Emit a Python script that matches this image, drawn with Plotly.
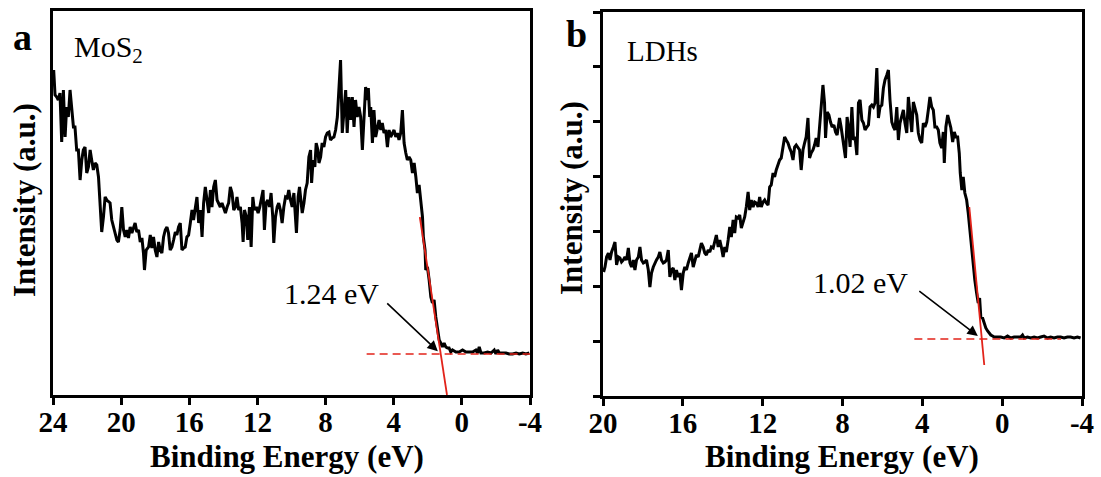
import plotly.graph_objects as go

# ---------------- MoS2 valence-band spectrum ----------------
energy_mos2 = [
    23.96, 23.88, 23.78, 23.69, 23.59, 23.49, 23.39, 23.29, 23.20, 23.10,
    23.00, 22.90, 22.80, 22.71, 22.61, 22.51, 22.41, 22.31, 22.22, 22.12,
    22.02, 21.92, 21.82, 21.73, 21.63, 21.53, 21.43, 21.33, 21.24, 21.14,
    21.04, 20.94, 20.84, 20.65, 20.55, 20.45, 20.35, 20.25, 20.16, 20.06,
    19.96, 19.86, 19.76, 19.67, 19.57, 19.47, 19.37, 19.27, 19.18, 19.08,
    18.98, 18.88, 18.78, 18.69, 18.63, 18.53, 18.39, 18.29, 18.20, 18.10,
    18.00, 17.90, 17.80, 17.71, 17.61, 17.51, 17.41, 17.31, 17.22, 17.12,
    17.02, 16.92, 16.82, 16.73, 16.63, 16.53, 16.43, 16.33, 16.24, 16.14,
    16.04, 15.94, 15.84, 15.75, 15.65, 15.55, 15.45, 15.35, 15.25, 15.16,
    15.06, 14.96, 14.86, 14.76, 14.67, 14.57, 14.47, 14.37, 14.27, 14.18,
    14.08, 13.98, 13.88, 13.78, 13.69, 13.59, 13.49, 13.39, 13.29, 13.20,
    13.10, 13.00, 12.90, 12.84, 12.76, 12.65, 12.57, 12.47, 12.37, 12.27,
    12.18, 12.06, 11.96, 11.86, 11.76, 11.67, 11.59, 11.49, 11.39, 11.29,
    11.20, 11.10, 11.04, 10.94, 10.84, 10.75, 10.65, 10.55, 10.45, 10.35,
    10.25, 10.16, 10.06, 9.96, 9.86, 9.76, 9.71, 9.61, 9.53, 9.47,
    9.37, 9.27, 9.18, 9.08, 8.98, 8.88, 8.82, 8.73, 8.63, 8.55,
    8.45, 8.39, 8.29, 8.20, 8.10, 8.00, 7.90, 7.80, 7.71, 7.61,
    7.51, 7.41, 7.31, 7.22, 7.12, 7.02, 6.92, 6.82, 6.73, 6.63,
    6.53, 6.43, 6.33, 6.24, 6.14, 6.04, 5.94, 5.84, 5.74, 5.65,
    5.55, 5.49, 5.41, 5.35, 5.25, 5.16, 5.06, 4.96, 4.86, 4.76,
    4.67, 4.57, 4.47, 4.37, 4.27, 4.18, 4.08, 3.98, 3.88, 3.78,
    3.69, 3.59, 3.49, 3.39, 3.29, 3.20, 3.10, 3.00, 2.90, 2.80,
    2.70, 2.61, 2.51, 2.41, 2.31, 2.26, 2.16, 2.12, 2.02, 1.92,
    1.82, 1.73, 1.63, 1.53, 1.43, 1.33, 1.24, 1.14, 1.04, 0.94,
    0.84, 0.75, 0.65, 0.55, 0.35, 0.16, -0.04, -0.24, -0.43, -0.63,
    -0.82, -0.92, -1.02, -1.12, -1.31, -1.51, -1.71, -1.80, -1.90, -2.00,
    -2.10, -2.20, -2.39, -2.59, -2.78, -2.98, -3.18, -3.37, -3.57, -3.76,
    -3.96,
]
intensity_mos2 = [
    325, 300, 298, 295, 302, 253, 305, 258, 288, 278,
    305, 282, 268, 268, 245, 245, 215, 235, 245, 248,
    222, 228, 245, 235, 225, 232, 230, 218, 192, 163,
    178, 198, 195, 192, 175, 168, 163, 155, 153, 165,
    188, 165, 158, 165, 157, 168, 162, 168, 172, 163,
    165, 153, 157, 142, 125, 145, 148, 160, 147, 158,
    145, 138, 153, 145, 142, 158, 165, 168, 162, 145,
    148, 155, 163, 160, 168, 172, 145, 147, 148, 158,
    160, 172, 185, 175, 188, 198, 172, 185, 158, 192,
    208, 195, 182, 205, 188, 208, 215, 195, 192, 188,
    192, 187, 182, 188, 192, 208, 202, 185, 188, 198,
    185, 188, 172, 153, 185, 178, 155, 188, 148, 198,
    185, 188, 182, 188, 198, 205, 165, 192, 195, 188,
    202, 178, 152, 178, 188, 192, 185, 172, 188, 198,
    197, 205, 195, 188, 202, 178, 162, 198, 208, 198,
    182, 192, 205, 212, 238, 245, 212, 235, 228, 252,
    245, 232, 238, 252, 248, 258, 262, 263, 255, 257,
    258, 265, 278, 305, 335, 262, 288, 305, 262, 298,
    275, 298, 268, 295, 278, 288, 278, 245, 278, 308,
    295, 307, 278, 288, 252, 285, 258, 265, 275, 265,
    272, 262, 265, 248, 265, 258, 262, 265, 258, 262,
    255, 262, 285, 252, 242, 235, 238, 235, 222, 232,
    218, 202, 210, 195, 178, 158, 145, 125, 128, 115,
    98, 92, 95, 78, 65, 55, 52, 48, 52, 48,
    47, 47, 43, 45, 43, 43, 45, 43, 43, 43,
    45, 42, 48, 42, 42, 43, 42, 43, 45, 41,
    45, 42, 42, 42, 41, 41, 42, 41, 42, 41,
    42,
]

# ---------------- LDHs valence-band spectrum ----------------
energy_ldh = [
    19.97, 19.90, 19.82, 19.73, 19.65, 19.57, 19.48, 19.40, 19.32, 19.23,
    19.15, 19.07, 18.98, 18.90, 18.82, 18.73, 18.65, 18.57, 18.48, 18.40,
    18.32, 18.23, 18.15, 18.07, 17.98, 17.90, 17.82, 17.73, 17.65, 17.57,
    17.48, 17.40, 17.32, 17.23, 17.15, 17.07, 16.98, 16.90, 16.82, 16.73,
    16.65, 16.57, 16.48, 16.40, 16.32, 16.23, 16.15, 16.07, 15.98, 15.90,
    15.82, 15.73, 15.65, 15.57, 15.48, 15.40, 15.32, 15.23, 15.15, 15.07,
    14.98, 14.90, 14.82, 14.73, 14.65, 14.57, 14.48, 14.40, 14.32, 14.23,
    14.15, 14.07, 13.98, 13.90, 13.82, 13.73, 13.65, 13.57, 13.48, 13.40,
    13.32, 13.23, 13.15, 13.07, 12.98, 12.90, 12.82, 12.73, 12.65, 12.57,
    12.48, 12.40, 12.32, 12.23, 12.15, 12.07, 11.98, 11.90, 11.82, 11.73,
    11.65, 11.57, 11.48, 11.40, 11.32, 11.23, 11.15, 11.07, 10.98, 10.90,
    10.82, 10.73, 10.65, 10.57, 10.48, 10.40, 10.32, 10.23, 10.15, 10.07,
    9.98, 9.90, 9.82, 9.73, 9.65, 9.57, 9.48, 9.40, 9.32, 9.23,
    9.15, 9.07, 8.98, 8.90, 8.85, 8.77, 8.68, 8.60, 8.52, 8.43,
    8.35, 8.27, 8.15, 8.07, 7.98, 7.90, 7.85, 7.77, 7.70, 7.62,
    7.53, 7.45, 7.37, 7.28, 7.20, 7.12, 7.03, 6.95, 6.87, 6.78,
    6.70, 6.62, 6.53, 6.45, 6.37, 6.28, 6.20, 6.12, 6.03, 5.95,
    5.87, 5.78, 5.70, 5.62, 5.53, 5.45, 5.37, 5.28, 5.20, 5.12,
    5.03, 4.95, 4.87, 4.78, 4.70, 4.62, 4.53, 4.45, 4.37, 4.28,
    4.20, 4.12, 4.03, 3.95, 3.87, 3.78, 3.70, 3.62, 3.53, 3.45,
    3.37, 3.28, 3.20, 3.12, 3.03, 2.95, 2.90, 2.82, 2.73, 2.65,
    2.57, 2.48, 2.40, 2.32, 2.23, 2.15, 2.10, 2.02, 1.95, 1.87,
    1.78, 1.70, 1.62, 1.53, 1.45, 1.37, 1.28, 1.20, 1.13, 1.07,
    0.98, 0.90, 0.82, 0.73, 0.65, 0.57, 0.48, 0.40, 0.32, 0.23,
    0.07, -0.10, -0.27, -0.43, -0.60, -0.77, -0.93, -1.02, -1.10, -1.27,
    -1.43, -1.60, -1.77, -1.93, -2.10, -2.27, -2.43, -2.60, -2.77, -2.93,
    -3.10, -3.27, -3.43, -3.60, -3.77, -3.93,
]
intensity_ldh = [
    124, 129, 139, 143, 136, 144, 149, 154, 131, 139,
    138, 134, 136, 139, 136, 148, 133, 129, 136, 126,
    136, 139, 149, 136, 133, 134, 136, 126, 109, 123,
    129, 133, 136, 139, 144, 136, 133, 134, 136, 146,
    119, 126, 128, 116, 126, 119, 123, 106, 123, 129,
    126, 133, 139, 143, 129, 136, 141, 139, 146, 153,
    149, 143, 141, 146, 144, 149, 148, 156, 161, 149,
    156, 149, 139, 149, 144, 156, 169, 159, 176, 163,
    179, 178, 181, 168, 173, 179, 189, 204, 186, 196,
    189, 194, 193, 189, 199, 189, 194, 196, 193, 191,
    209, 211, 223, 219, 226, 231, 236, 238, 249, 259,
    256, 253, 248, 244, 236, 249, 251, 248, 246, 226,
    246, 253, 259, 278, 238, 243, 246, 251, 258, 249,
    269, 289, 311, 293, 258, 284, 281, 274, 269, 271,
    264, 261, 278, 269, 256, 246, 238, 279, 269, 249,
    289, 256, 259, 241, 293, 296, 276, 273, 266, 269,
    271, 289, 291, 289, 293, 328, 278, 289, 291, 308,
    316, 321, 326, 296, 274, 269, 266, 289, 256, 273,
    281, 286, 273, 263, 299, 278, 264, 294, 289, 281,
    263, 256, 253, 273, 269, 274, 286, 299, 289, 286,
    269, 269, 266, 253, 248, 264, 233, 269, 281, 274,
    268, 254, 264, 259, 259, 243, 223, 206, 219, 203,
    196, 183, 166, 143, 129, 116, 103, 93, 98, 79,
    78, 73, 68, 65, 63, 61, 60, 59, 59, 59,
    59, 58, 60, 58, 59, 59, 59, 61, 58, 59,
    58, 59, 58, 59, 60, 58, 59, 58, 59, 59,
    58, 59, 59, 58, 59, 58,
]

# ---------------- onset extrapolation ----------------
onset_mos2 = 1.24          # eV, leading-edge onset
onset_ldh = 1.02
background_mos2 = 41       # flat background level
background_ldh = 57
edge_slope_mos2 = 111.5    # intensity per eV along the leading edge
edge_slope_ldh = 211.0
edge_top_mos2, edge_bottom_mos2 = 178, 0
edge_top_ldh, edge_bottom_ldh = 189, 31
baseline_span_mos2 = [5.59, -4.0]
baseline_span_ldh = [4.40, -2.95]


def edge_line(onset, base, slope, top, bottom):
    e_top = onset + (top - base) / slope
    e_bot = onset + (bottom - base) / slope
    return [e_top, e_bot], [top, bottom]


xt_m, yt_m = edge_line(onset_mos2, background_mos2, edge_slope_mos2,
                       edge_top_mos2, edge_bottom_mos2)
xt_l, yt_l = edge_line(onset_ldh, background_ldh, edge_slope_ldh,
                       edge_top_ldh, edge_bottom_ldh)

ticks_mos2 = [24, 20, 16, 12, 8, 4, 0, -4]
ticks_ldh = [20, 16, 12, 8, 4, 0, -4]
tick_labels_mos2 = ["24", "20", "16", "12", "8", "4", "0", "-4"]
tick_labels_ldh = ["20", "16", "12", "8", "4", "0", "-4"]

W, H = 1101, 477
SERIF = "Liberation Serif"
RED = "#e2231a"

fig = go.Figure()

# spectra
fig.add_trace(go.Scatter(x=energy_mos2, y=intensity_mos2, mode="lines",
                         line=dict(color="black", width=3),
                         xaxis="x", yaxis="y"))
fig.add_trace(go.Scatter(x=energy_ldh, y=intensity_ldh, mode="lines",
                         line=dict(color="black", width=3),
                         xaxis="x2", yaxis="y2"))

# background levels
fig.add_trace(go.Scatter(x=baseline_span_mos2, y=[background_mos2] * 2, mode="lines",
                         line=dict(color=RED, width=1.6, dash="8px,5px"),
                         xaxis="x", yaxis="y"))
fig.add_trace(go.Scatter(x=baseline_span_ldh, y=[background_ldh] * 2, mode="lines",
                         line=dict(color=RED, width=1.6, dash="8px,5px"),
                         xaxis="x2", yaxis="y2"))

# leading-edge extrapolation
fig.add_trace(go.Scatter(x=xt_m, y=yt_m, mode="lines",
                         line=dict(color=RED, width=1.8),
                         xaxis="x", yaxis="y"))
fig.add_trace(go.Scatter(x=xt_l, y=yt_l, mode="lines",
                         line=dict(color=RED, width=1.8),
                         xaxis="x2", yaxis="y2"))

frame = dict(showline=True, linecolor="black", linewidth=3, mirror=True,
             showgrid=False, zeroline=False, automargin=False)
tickfont = dict(family=SERIF, size=29, color="black", weight="bold")

fig.update_layout(
    template=None,
    width=W, height=H,
    margin=dict(l=0, r=0, t=0, b=0, autoexpand=False),
    paper_bgcolor="white", plot_bgcolor="white",
    showlegend=False,
    xaxis=dict(domain=[53 / W, 530 / W], range=[24, -4], anchor="y",
               tickmode="array", tickvals=ticks_mos2, ticktext=tick_labels_mos2,
               ticks="outside", ticklen=7, tickwidth=2.5, tickcolor="black",
               ticklabelstandoff=-8, tickfont=tickfont, **frame),
    yaxis=dict(domain=[1 - 395 / H, 1 - 11 / H], range=[0, 384], anchor="x",
               showticklabels=False, ticks="", **frame),
    xaxis2=dict(domain=[603 / W, 1082 / W], range=[20, -4], anchor="y2",
                tickmode="array", tickvals=ticks_ldh, ticktext=tick_labels_ldh,
                ticks="outside", ticklen=7, tickwidth=2.5, tickcolor="black",
                ticklabelstandoff=-8, tickfont=tickfont, **frame),
    yaxis2=dict(domain=[1 - 396 / H, 1 - 12 / H], range=[0, 384], anchor="x2",
                tickmode="linear", tick0=0, dtick=384 / 7,
                ticks="outside", ticklen=7, tickwidth=2.5, tickcolor="black",
                showticklabels=False, **frame),
)

bold = dict(family=SERIF, color="black", weight="bold")
plain = dict(family=SERIF, color="black")
centered = dict(xanchor="center", yanchor="middle", showarrow=False)

annotations = [
    # panel letters
    dict(text="a", x=22 / W, y=1 - 37 / H, xref="paper", yref="paper",
         font=dict(size=38, **bold), **centered),
    dict(text="b", x=576 / W, y=1 - 34 / H, xref="paper", yref="paper",
         font=dict(size=38, **bold), **centered),
    # axis titles
    dict(text="Binding Energy (eV)", x=287 / W, y=1 - 456 / H, xref="paper", yref="paper",
         font=dict(size=31, **bold), **centered),
    dict(text="Binding Energy (eV)", x=842 / W, y=1 - 456 / H, xref="paper", yref="paper",
         font=dict(size=31, **bold), **centered),
    dict(text="Intensity (a.u.)", x=24 / W, y=1 - 200 / H, xref="paper", yref="paper",
         textangle=-90, font=dict(size=31, **bold), **centered),
    dict(text="Intensity (a.u.)", x=571 / W, y=1 - 198 / H, xref="paper", yref="paper",
         textangle=-90, font=dict(size=31, **bold), **centered),
    # onset labels
    dict(text=f"{onset_mos2:.2f} eV", x=7.65, y=102, xref="x", yref="y",
         font=dict(size=30, **plain), **centered),
    dict(text=f"{onset_ldh:.2f} eV", x=7.1, y=114, xref="x2", yref="y2",
         font=dict(size=30, **plain), **centered),
    # sample names
    dict(text="MoS<sub>2</sub>", x=22.88, y=346, xref="x", yref="y",
         xanchor="left", yanchor="middle", showarrow=False, font=dict(size=30, **plain)),
    dict(text="LDHs", x=18.9, y=345, xref="x2", yref="y2",
         xanchor="left", yanchor="middle", showarrow=False, font=dict(size=29, **plain)),
    # arrows to onset points
    dict(text="", x=onset_mos2, y=background_mos2, xref="x", yref="y",
         ax=-55, ay=-52, showarrow=True, arrowhead=2, arrowsize=1.3,
         arrowwidth=1.6, arrowcolor="black", standoff=4),
    dict(text="", x=onset_ldh, y=background_ldh, xref="x2", yref="y2",
         ax=-64, ay=-49, showarrow=True, arrowhead=2, arrowsize=1.3,
         arrowwidth=1.6, arrowcolor="black", standoff=5),
]
fig.update_layout(annotations=annotations)

fig.write_html("out.html")
